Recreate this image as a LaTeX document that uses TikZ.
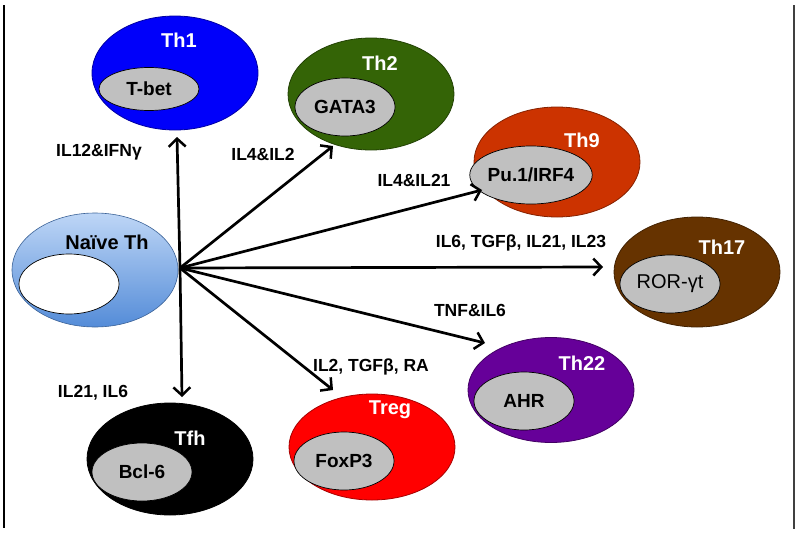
\documentclass[tikz,border=0pt]{standalone}
\usepackage{fontspec}
\setmainfont{Liberation Sans}
\usetikzlibrary{shapes.geometric,arrows.meta}
\definecolor{thone}{RGB}{0,0,250}
\definecolor{thtwo}{RGB}{52,100,6}
\definecolor{thnine}{RGB}{204,51,0}
\definecolor{thseventeen}{RGB}{102,51,0}
\definecolor{thtwentytwo}{RGB}{102,0,153}
\definecolor{treg}{RGB}{255,0,0}
\definecolor{tfh}{RGB}{0,0,0}
\definecolor{naivetop}{RGB}{190,214,246}
\definecolor{naivebot}{RGB}{84,140,216}
\definecolor{coregray}{RGB}{192,192,192}

\begin{document}
\begin{tikzpicture}[x=1pt,y=-1pt,
  cell/.style={ellipse, inner sep=0pt, minimum width=166pt, minimum height=112pt,
    fill=#1, draw=#1!65!black, line width=0.8pt},
  core/.style={ellipse, inner sep=0pt, minimum width=100pt, minimum height=58pt,
    fill=coregray, draw=black, line width=0.7pt, font=\fontsize{19}{22}\selectfont\bfseries},
  cellname/.style={text=white, font=\fontsize{20}{24}\selectfont\bfseries},
  cytokine/.style={font=\fontsize{17.5}{20}\selectfont\bfseries},
  signal/.style={line width=2.7pt, -{Straight Barb[length=8pt,width=17pt,line width=2.5pt]}}]
\useasboundingbox (0,0) rectangle (800,533);
\draw[line width=1.3pt] (4,5) -- (4,528);
\draw[line width=1.5pt, black!75] (794,5) -- (794,529);

% naive cell
\node[ellipse, inner sep=0pt, minimum width=166pt, minimum height=114pt,
  top color=naivetop, bottom color=naivebot, draw=naivebot!70!black, line width=0.6pt] (naive) at (95,270) {};
\node[ellipse, inner sep=0pt, minimum width=100pt, minimum height=60pt,
  fill=white, draw=black, line width=0.7pt] (naivecore) at (69,284) {};
\node[font=\fontsize{20}{24}\selectfont\bfseries] (naivename) at (107,242) {Naïve Th};

% effector subsets
\node[cell=thone, minimum height=114pt] (th1) at (175,73) {};
\node[core, minimum height=43pt] (tbet) at (149,89) {T-bet};
\node[cellname] (th1name) at (179,40) {Th1};

\node[cell=thtwo] (th2) at (371,94) {};
\node[core] (gata3) at (345,107) {GATA3};
\node[cellname] (th2name) at (380,63) {Th2};

\node[cell=thnine, minimum height=110pt] (th9) at (557,162) {};
\node[core] (pu1) at (531,175) {Pu.1/IRF4};
\node[cellname] (th9name) at (582,140) {Th9};

\node[cell=thseventeen, minimum height=110pt] (th17) at (697,272) {};
\node[core, font=\fontsize{20}{22}\selectfont] (ror) at (670,284) {ROR-γt};
\node[cellname] (th17name) at (722,247) {Th17};

\node[cell=thtwentytwo, minimum height=105pt] (th22) at (551,390) {};
\node[core] (ahr) at (524,401) {AHR};
\node[cellname] (th22name) at (582,363) {Th22};

\node[cell=treg, minimum height=106pt] (treg) at (372,447) {};
\node[core] (foxp3) at (344,461) {FoxP3};
\node[cellname] (tregname) at (390,410) {Treg};

\node[cell=tfh] (tfh) at (170,459) {};
\node[core] (bcl6) at (142,472) {Bcl-6};
\node[cellname] (tfhname) at (190,438) {Tfh};

% arrow ends
\coordinate (to1) at (177,137);
\coordinate (to2) at (333,146);
\coordinate (to9) at (482,190);
\coordinate (to17) at (603,267);
\coordinate (to22) at (485,343);
\coordinate (toreg) at (333,390);
\coordinate (tofh) at (182,397);
\coordinate (hub) at (180,268);

\foreach \t in {to1,to2,to9,to17,to22,toreg,tofh}
  \draw[signal] (hub) -- (\t);

% cytokines
\node[cytokine] (c1) at (99,152) {IL12\&IFNγ};
\node[cytokine] (c2) at (263,154) {IL4\&IL2};
\node[cytokine] (c9) at (414,180) {IL4\&IL21};
\node[cytokine] (c17) at (521,243) {IL6, TGFβ, IL21, IL23};
\node[cytokine] (c22) at (470,310) {TNF\&IL6};
\node[cytokine] (creg) at (371,367) {IL2, TGFβ, RA};
\node[cytokine] (cfh) at (93,393) {IL21, IL6};
\end{tikzpicture}
\end{document}
